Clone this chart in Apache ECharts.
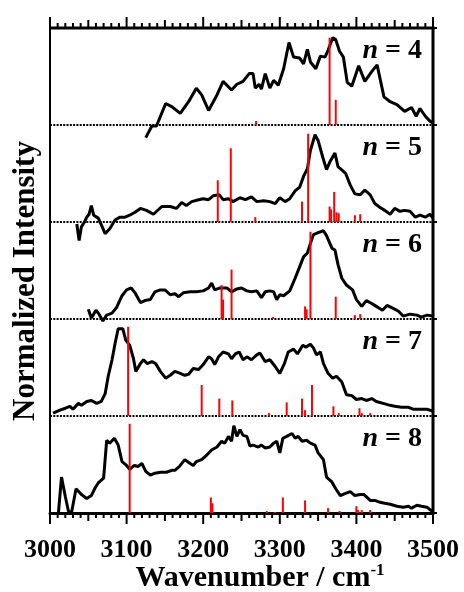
<!DOCTYPE html>
<html><head><meta charset="utf-8">
<script src="https://cdn.jsdelivr.net/npm/echarts@6/dist/echarts.min.js"></script>
<style>html,body{margin:0;padding:0;background:#fff}#c{width:464px;height:592px}</style>
</head><body><div id="c"></div>
<script>
// ---------- data ----------
const panelLabels = ['4', '5', '6', '7', '8'];
const xTicks = [3000, 3100, 3200, 3300, 3400, 3500];
const xRange = [3000, 3500];

const wn4 = [3125,3133,3139,3151,3159,3170,3181,3191,3198,3207,3218,3226,3237,3244,3252,3260,3265,3268,3273,3276,3281,3287,3292,3298,3305,3312,3318,3326,3331,3336,3340,3347,3353,3359,3363,3369,3373,3378,3383,3388,3394,3403,3411,3420,3427,3436,3444,3453,3463,3472,3478,3483,3490,3496,3500];
const int4 = [-0.13,-0.01,-0.01,0.22,0.19,0.12,0.24,0.38,0.31,0.15,0.31,0.45,0.36,0.42,0.45,0.53,0.53,0.38,0.42,0.37,0.53,0.38,0.46,0.41,0.58,0.85,0.70,0.69,0.63,0.78,0.65,0.58,0.71,0.70,0.77,0.90,0.88,0.76,0.70,0.44,0.40,0.61,0.45,0.55,0.62,0.29,0.24,0.21,0.14,0.18,0.09,0.17,0.09,0.04,0.02];
const stickWn4 = [3269,3365,3373];
const stickInt4 = [0.04,0.90,0.26];

const wn5 = [3035,3038,3041,3045,3048,3051,3054,3057,3063,3067,3072,3078,3085,3091,3098,3104,3111,3118,3126,3135,3146,3157,3165,3172,3178,3185,3194,3200,3207,3213,3221,3226,3233,3239,3248,3255,3263,3270,3279,3287,3294,3300,3307,3313,3320,3326,3331,3336,3340,3346,3350,3356,3361,3366,3372,3376,3382,3386,3392,3398,3405,3411,3418,3424,3431,3437,3444,3450,3457,3463,3470,3477,3483,3490,3496,3500];
const int5 = [-0.02,-0.19,-0.05,0.0,0.05,0.08,0.17,0.07,0.04,-0.03,-0.12,-0.07,0.02,0.05,0.05,0.07,0.10,0.14,0.12,0.08,0.16,0.16,0.14,0.20,0.17,0.21,0.23,0.24,0.23,0.27,0.28,0.23,0.24,0.21,0.25,0.23,0.26,0.21,0.22,0.21,0.19,0.25,0.21,0.24,0.32,0.36,0.47,0.55,0.74,0.90,0.84,0.67,0.54,0.63,0.71,0.57,0.53,0.50,0.38,0.29,0.28,0.33,0.28,0.19,0.15,0.12,0.08,0.14,0.11,0.12,0.11,0.05,0.07,0.05,0.08,0.04];
const stickWn5 = [3219,3236,3268,3290,3329,3337,3365,3367,3371,3374,3377,3398,3405];
const stickInt5 = [0.43,0.76,0.05,0.01,0.21,0.91,0.16,0.13,0.31,0.10,0.09,0.07,0.08];

const wn6 = [3050,3054,3060,3064,3069,3074,3081,3087,3094,3100,3106,3111,3118,3124,3131,3137,3144,3150,3157,3163,3168,3174,3183,3191,3200,3207,3211,3215,3222,3231,3237,3244,3250,3257,3263,3270,3276,3281,3287,3292,3296,3300,3305,3313,3320,3326,3331,3336,3340,3344,3350,3357,3361,3368,3372,3376,3381,3387,3395,3400,3407,3413,3420,3426,3434,3440,3448,3455,3461,3470,3479,3485,3492,3500];
const int6 = [0.10,0.01,0.09,0.05,-0.02,0.04,0.06,0.12,0.24,0.30,0.32,0.27,0.17,0.19,0.20,0.28,0.30,0.30,0.25,0.26,0.23,0.27,0.28,0.28,0.29,0.32,0.37,0.30,0.32,0.32,0.28,0.31,0.32,0.29,0.28,0.29,0.22,0.28,0.29,0.28,0.20,0.25,0.24,0.29,0.42,0.54,0.64,0.68,0.78,0.87,0.89,0.91,0.86,0.73,0.71,0.56,0.42,0.35,0.30,0.20,0.13,0.19,0.16,0.13,0.09,0.14,0.11,0.08,0.03,0.05,0.04,0.02,0.04,0.03];
const stickWn6 = [3224,3226,3237,3291,3333,3335,3340,3373,3398,3405];
const stickInt6 = [0.35,0.20,0.51,0.02,0.13,0.10,0.90,0.23,0.04,0.05];

const wn7 = [3004,3013,3020,3026,3030,3037,3041,3048,3054,3061,3067,3072,3076,3081,3085,3089,3095,3099,3104,3109,3112,3118,3122,3127,3133,3138,3144,3151,3157,3163,3170,3176,3181,3187,3194,3200,3207,3211,3215,3220,3226,3233,3237,3242,3247,3252,3257,3263,3270,3274,3281,3287,3294,3300,3306,3311,3318,3323,3330,3334,3340,3344,3348,3353,3357,3363,3369,3374,3381,3387,3394,3400,3407,3413,3420,3426,3435,3444,3450,3459,3468,3474,3483,3492,3500];
const int7 = [0.03,0.06,0.08,0.10,0.07,0.13,0.11,0.15,0.16,0.13,0.15,0.23,0.41,0.58,0.75,0.90,0.90,0.78,0.73,0.59,0.46,0.54,0.58,0.54,0.56,0.54,0.46,0.39,0.42,0.46,0.44,0.42,0.43,0.49,0.48,0.53,0.61,0.59,0.53,0.61,0.66,0.64,0.59,0.64,0.66,0.58,0.61,0.58,0.63,0.65,0.56,0.58,0.51,0.44,0.54,0.66,0.69,0.64,0.73,0.71,0.74,0.70,0.63,0.66,0.54,0.44,0.39,0.41,0.35,0.22,0.21,0.17,0.18,0.16,0.18,0.15,0.13,0.11,0.10,0.09,0.09,0.07,0.07,0.07,0.05];
const stickWn7 = [3102,3198,3221,3238,3286,3309,3329,3333,3342,3370,3377,3404,3407,3418];
const stickInt7 = [0.92,0.32,0.18,0.16,0.03,0.14,0.18,0.06,0.32,0.10,0.03,0.08,0.03,0.03];

const wn8 = [3011,3015,3020,3024,3028,3034,3041,3048,3054,3059,3063,3070,3074,3078,3084,3089,3094,3100,3104,3110,3115,3120,3125,3131,3137,3144,3152,3159,3163,3169,3176,3183,3187,3191,3198,3205,3211,3218,3224,3228,3233,3237,3240,3244,3248,3252,3257,3261,3265,3272,3276,3281,3287,3292,3296,3300,3304,3309,3316,3320,3324,3329,3335,3340,3346,3350,3357,3361,3368,3373,3379,3385,3392,3398,3405,3410,3418,3424,3431,3437,3444,3453,3461,3468,3472,3479,3485,3492,3500];
const int8 = [0.0,0.37,0.17,0.02,0.0,0.25,0.19,0.15,0.18,0.26,0.31,0.36,0.75,0.72,0.77,0.70,0.53,0.49,0.45,0.49,0.48,0.51,0.43,0.39,0.41,0.42,0.42,0.44,0.44,0.48,0.55,0.51,0.49,0.53,0.55,0.60,0.65,0.68,0.74,0.72,0.79,0.74,0.90,0.79,0.86,0.80,0.79,0.69,0.70,0.68,0.70,0.67,0.68,0.72,0.74,0.62,0.77,0.79,0.82,0.77,0.79,0.74,0.75,0.72,0.70,0.62,0.55,0.37,0.32,0.25,0.18,0.20,0.22,0.18,0.19,0.19,0.13,0.13,0.11,0.10,0.09,0.07,0.06,0.07,0.05,0.08,0.07,0.06,0.01];
const stickWn8 = [3104,3210,3212,3283,3294,3304,3333,3363,3378,3400,3402,3407,3418];
const stickInt8 = [0.92,0.16,0.10,0.02,0.01,0.16,0.13,0.05,0.02,0.07,0.03,0.03,0.03];

// ---------- build ----------
const traces = [[wn4,int4],[wn5,int5],[wn6,int6],[wn7,int7],[wn8,int8]];
const sticks = [[stickWn4,stickInt4],[stickWn5,stickInt5],[stickWn6,stickInt6],[stickWn7,stickInt7],[stickWn8,stickInt8]];
const FONT = "'Liberation Serif','Times New Roman',serif";
const CW = 464, CH = 592;
const L = 50, W = 383, T0 = 28, H = 97, N = 5;
const grid = [], xAxis = [], yAxis = [], series = [], graphic = [];
const pair = (xs, ys) => xs.map((x, i) => [x, ys[i]]);
const BLACK = '#000';

function stickItem(params, api) {
  const x = api.value(0), y = api.value(1);
  const p0 = api.coord([x, 0]), p1 = api.coord([x, y]);
  return {type: 'line', shape: {x1: p0[0], y1: p0[1], x2: p1[0], y2: p1[1]},
    style: {stroke: '#ff0000', lineWidth: 2}};
}

for (let k = 0; k < N; k++) {
  grid.push({left: L, width: W, top: T0 + H * k, height: H});
  const last = k === N - 1;
  xAxis.push({
    gridIndex: k, type: 'value', position: 'bottom', min: 3000, max: 3500, interval: 100,
    axisLine: {show: last, onZero: false, lineStyle: {color: BLACK, width: 3}},
    axisTick: {show: false}, minorTick: {show: false},
    axisLabel: {show: last, fontFamily: FONT, fontWeight: 'bold', fontSize: 26, color: BLACK, margin: 24,
      formatter: v => String(v)},
    splitLine: {show: false}
  });
  yAxis.push({gridIndex: k, type: 'value', position: 'left', min: 0, max: 1,
    axisLine: {show: true, onZero: false, lineStyle: {color: BLACK, width: 2}},
    axisTick: {show: false}, axisLabel: {show: false}, splitLine: {show: false}});

  if (!last) {
    series.push({type: 'line', xAxisIndex: k, yAxisIndex: k, data: xRange.map(x => [x, 0]),
      showSymbol: false, symbol: 'none', z: 1, silent: true,
      lineStyle: {color: BLACK, width: 2, type: [2, 1.3]}, animation: false});
  }
  series.push({type: 'line', xAxisIndex: k, yAxisIndex: k, data: pair(traces[k][0], traces[k][1]),
    showSymbol: false, symbol: 'none', clip: false, z: 3,
    lineStyle: {color: BLACK, width: 3}, animation: false});
  series.push({type: 'custom', xAxisIndex: k, yAxisIndex: k, data: pair(sticks[k][0], sticks[k][1]),
    renderItem: stickItem, encode: {x: 0, y: 1}, clip: false, z: 4, animation: false});

  graphic.push({type: 'text', x: 422, y: T0 + H * k + 23, z: 10,
    style: {text: '{n|n} = ' + panelLabels[k], textAlign: 'right', textVerticalAlign: 'middle',
      font: "bold 28px " + FONT, fill: BLACK,
      rich: {n: {fontFamily: FONT, fontWeight: 'bold', fontStyle: 'italic', fontSize: 28, fill: BLACK}}}});
}

// frame overlay grid covering the whole canvas, with scales matched to the panels
const FG = grid.length;
const pxPerWn = W / 500;
grid.push({left: 0, top: 0, width: CW, height: CH});
xAxis.push({gridIndex: FG, type: 'value', min: 3000 - L / pxPerWn, max: 3500 + (CW - L - W) / pxPerWn, show: false});
yAxis.push({gridIndex: FG, type: 'value', min: -(CH - T0 - H * N) / H, max: N + T0 / H, show: false});
const tickWn = [];
for (let v = 3000; v <= 3500; v += 10) tickWn.push(v);
const boundaryLevels = [0, 1, 2, 3, 4, 5];
const tickLen = v => (v % 100 === 0 ? 11 : (v % 50 === 0 ? 8 : 5)) / H;

// tick marks as broken line series (gaps between ticks)
const topTickData = [], botTickData = [];
tickWn.forEach(v => {
  topTickData.push([v, N], [v, N + tickLen(v)], [v, null]);
  botTickData.push([v, 0], [v, -tickLen(v)], [v, null]);
});
[topTickData, botTickData].forEach(d => series.push({type: 'line', xAxisIndex: FG, yAxisIndex: FG, data: d,
  showSymbol: false, symbol: 'none', connectNulls: false, clip: false, z: 5, silent: true,
  lineStyle: {color: BLACK, width: 2, cap: 'butt'}, animation: false}));

function frameLines(params, api) {
  const tl = api.coord([3000, N]), tr = api.coord([3500, N]), br = api.coord([3500, 0]);
  return {type: 'group', children: [
    {type: 'line', shape: {x1: tl[0] - 1, y1: tl[1], x2: tr[0] + 1.5, y2: tr[1]}, style: {stroke: BLACK, lineWidth: 3}},
    {type: 'line', shape: {x1: tr[0], y1: tr[1], x2: br[0], y2: br[1] + 1.5}, style: {stroke: BLACK, lineWidth: 3}}
  ]};
}
function rightTick(params, api) {
  const p = api.coord([3500, api.value(1)]);
  return {type: 'line', shape: {x1: p[0], y1: p[1], x2: p[0] + 4, y2: p[1]}, style: {stroke: BLACK, lineWidth: 2}};
}
series.push({type: 'custom', xAxisIndex: FG, yAxisIndex: FG, data: [[3000, 0]],
  renderItem: frameLines, encode: {x: 0, y: 1}, clip: false, z: 5, silent: true, animation: false});
series.push({type: 'custom', xAxisIndex: FG, yAxisIndex: FG, data: boundaryLevels.map(b => [3500, b]),
  renderItem: rightTick, encode: {x: 0, y: 1}, clip: false, z: 5, silent: true, animation: false});

graphic.push({type: 'text', x: 26, y: 281, rotation: Math.PI / 2, z: 10,
  style: {text: 'Normalized Intensity', textAlign: 'center', textVerticalAlign: 'middle',
    font: "bold 31px " + FONT, fill: BLACK}});
graphic.push({type: 'text', x: 260, y: 578, z: 10,
  style: {text: '{a|Wavenumber / cm}{s|-1}', textAlign: 'center', textVerticalAlign: 'middle',
    font: "bold 30px " + FONT, fill: BLACK,
    rich: {a: {fontFamily: FONT, fontWeight: 'bold', fontSize: 30, fill: BLACK},
           s: {fontFamily: FONT, fontWeight: 'bold', fontSize: 17, fill: BLACK, verticalAlign: 'top', padding: [0, 0, 14, 0]}}}});

const chart = echarts.init(document.getElementById('c'), null, {renderer: 'canvas'});
chart.setOption({animation: false, backgroundColor: '#fff', grid, xAxis, yAxis, series, graphic});
</script>
</body></html>
